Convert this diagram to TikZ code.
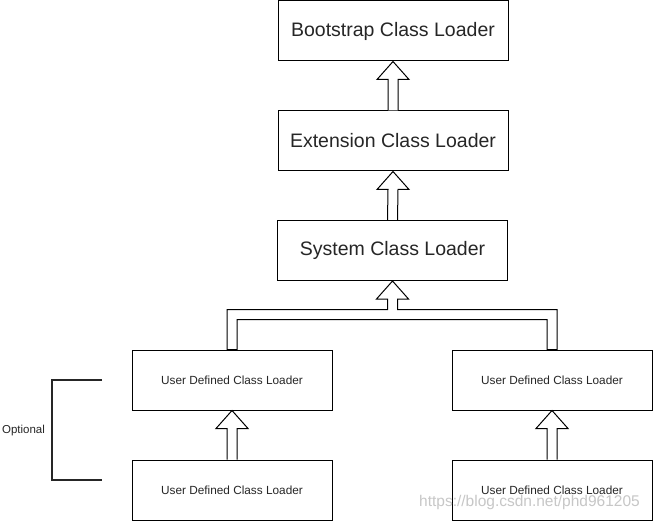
\documentclass[tikz,border=0pt]{standalone}
\usepackage{fontspec}
\setmainfont{Liberation Sans}
\usetikzlibrary{calc}
\begin{document}
\begin{tikzpicture}[x=1pt,y=1pt,
  bigbox/.style={draw=black,line width=1pt,fill=white,minimum width=230pt,minimum height=60pt,inner sep=0pt,font=\fontsize{19.5}{22}\selectfont,text=black!85},
  smallbox/.style={draw=black,line width=1pt,fill=white,minimum width=200pt,minimum height=60pt,inner sep=0pt,font=\fontsize{11.8}{14}\selectfont,text=black!85},
  hollowarrow/.style={draw=black,line width=1pt,fill=white,line join=miter},
  bracket/.style={draw=black!85,line width=2pt}]
\useasboundingbox (0,0) rectangle (653,-521);
\node[bigbox] (boot) at (393,-31) {Bootstrap Class Loader};
\node[bigbox] (ext) at (393,-141) {Extension Class Loader};
\node[bigbox] (sys) at (392.5,-250.5) {System Class Loader};
\node[smallbox] (ul1) at (232,-380) {User Defined Class Loader};
\node[smallbox] (ul2) at (232,-490) {User Defined Class Loader};
\node[smallbox] (ur1) at (552,-380) {User Defined Class Loader};
\node[smallbox] (ur2) at (552,-490) {User Defined Class Loader};
% single block arrows: #1 = lower node, #2 = upper node
\newcommand\hollowup[2]{%
  \draw[hollowarrow] ([xshift=-5pt]#1.north) -- ([xshift=-5pt,yshift=-18pt]#2.south)
    -- ([xshift=-16pt,yshift=-18pt]#2.south) -- (#2.south)
    -- ([xshift=16pt,yshift=-18pt]#2.south) -- ([xshift=5pt,yshift=-18pt]#2.south)
    -- ([xshift=5pt]#1.north);}
\hollowup{ext}{boot}
\hollowup{sys}{ext}
\hollowup{ul2}{ul1}
\hollowup{ur2}{ur1}
% forked block arrow
\draw[hollowarrow] ([xshift=-5pt]ul1.north) -- ([xshift=-5pt,yshift=40pt]ul1.north)
  -| ([xshift=-5pt,yshift=-18pt]sys.south) -- ([xshift=-16pt,yshift=-18pt]sys.south)
  -- (sys.south) -- ([xshift=16pt,yshift=-18pt]sys.south)
  -- ([xshift=5pt,yshift=-18pt]sys.south) |- ([xshift=5pt,yshift=40pt]ur1.north)
  -- ([xshift=5pt]ur1.north) -- ([xshift=-5pt]ur1.north)
  -- ([xshift=-5pt,yshift=30pt]ur1.north) -| ([xshift=5pt]ul1.north) -- cycle;
% optional bracket
\coordinate (bt) at (102,-380);
\coordinate (bb) at (102,-480);
\draw[bracket] (bt) -- (52,-380) -- (52,-480) -- (bb);
\node[font=\fontsize{11.5}{14}\selectfont,text=black!85,inner sep=0pt] (opt) at (23.5,-431) {Optional};
\node[font=\fontsize{15.5}{18}\selectfont,text=black!22,inner sep=0pt] (wm) at (529.5,-502) {https://blog.csdn.net/phd961205};
\end{tikzpicture}
\end{document}
